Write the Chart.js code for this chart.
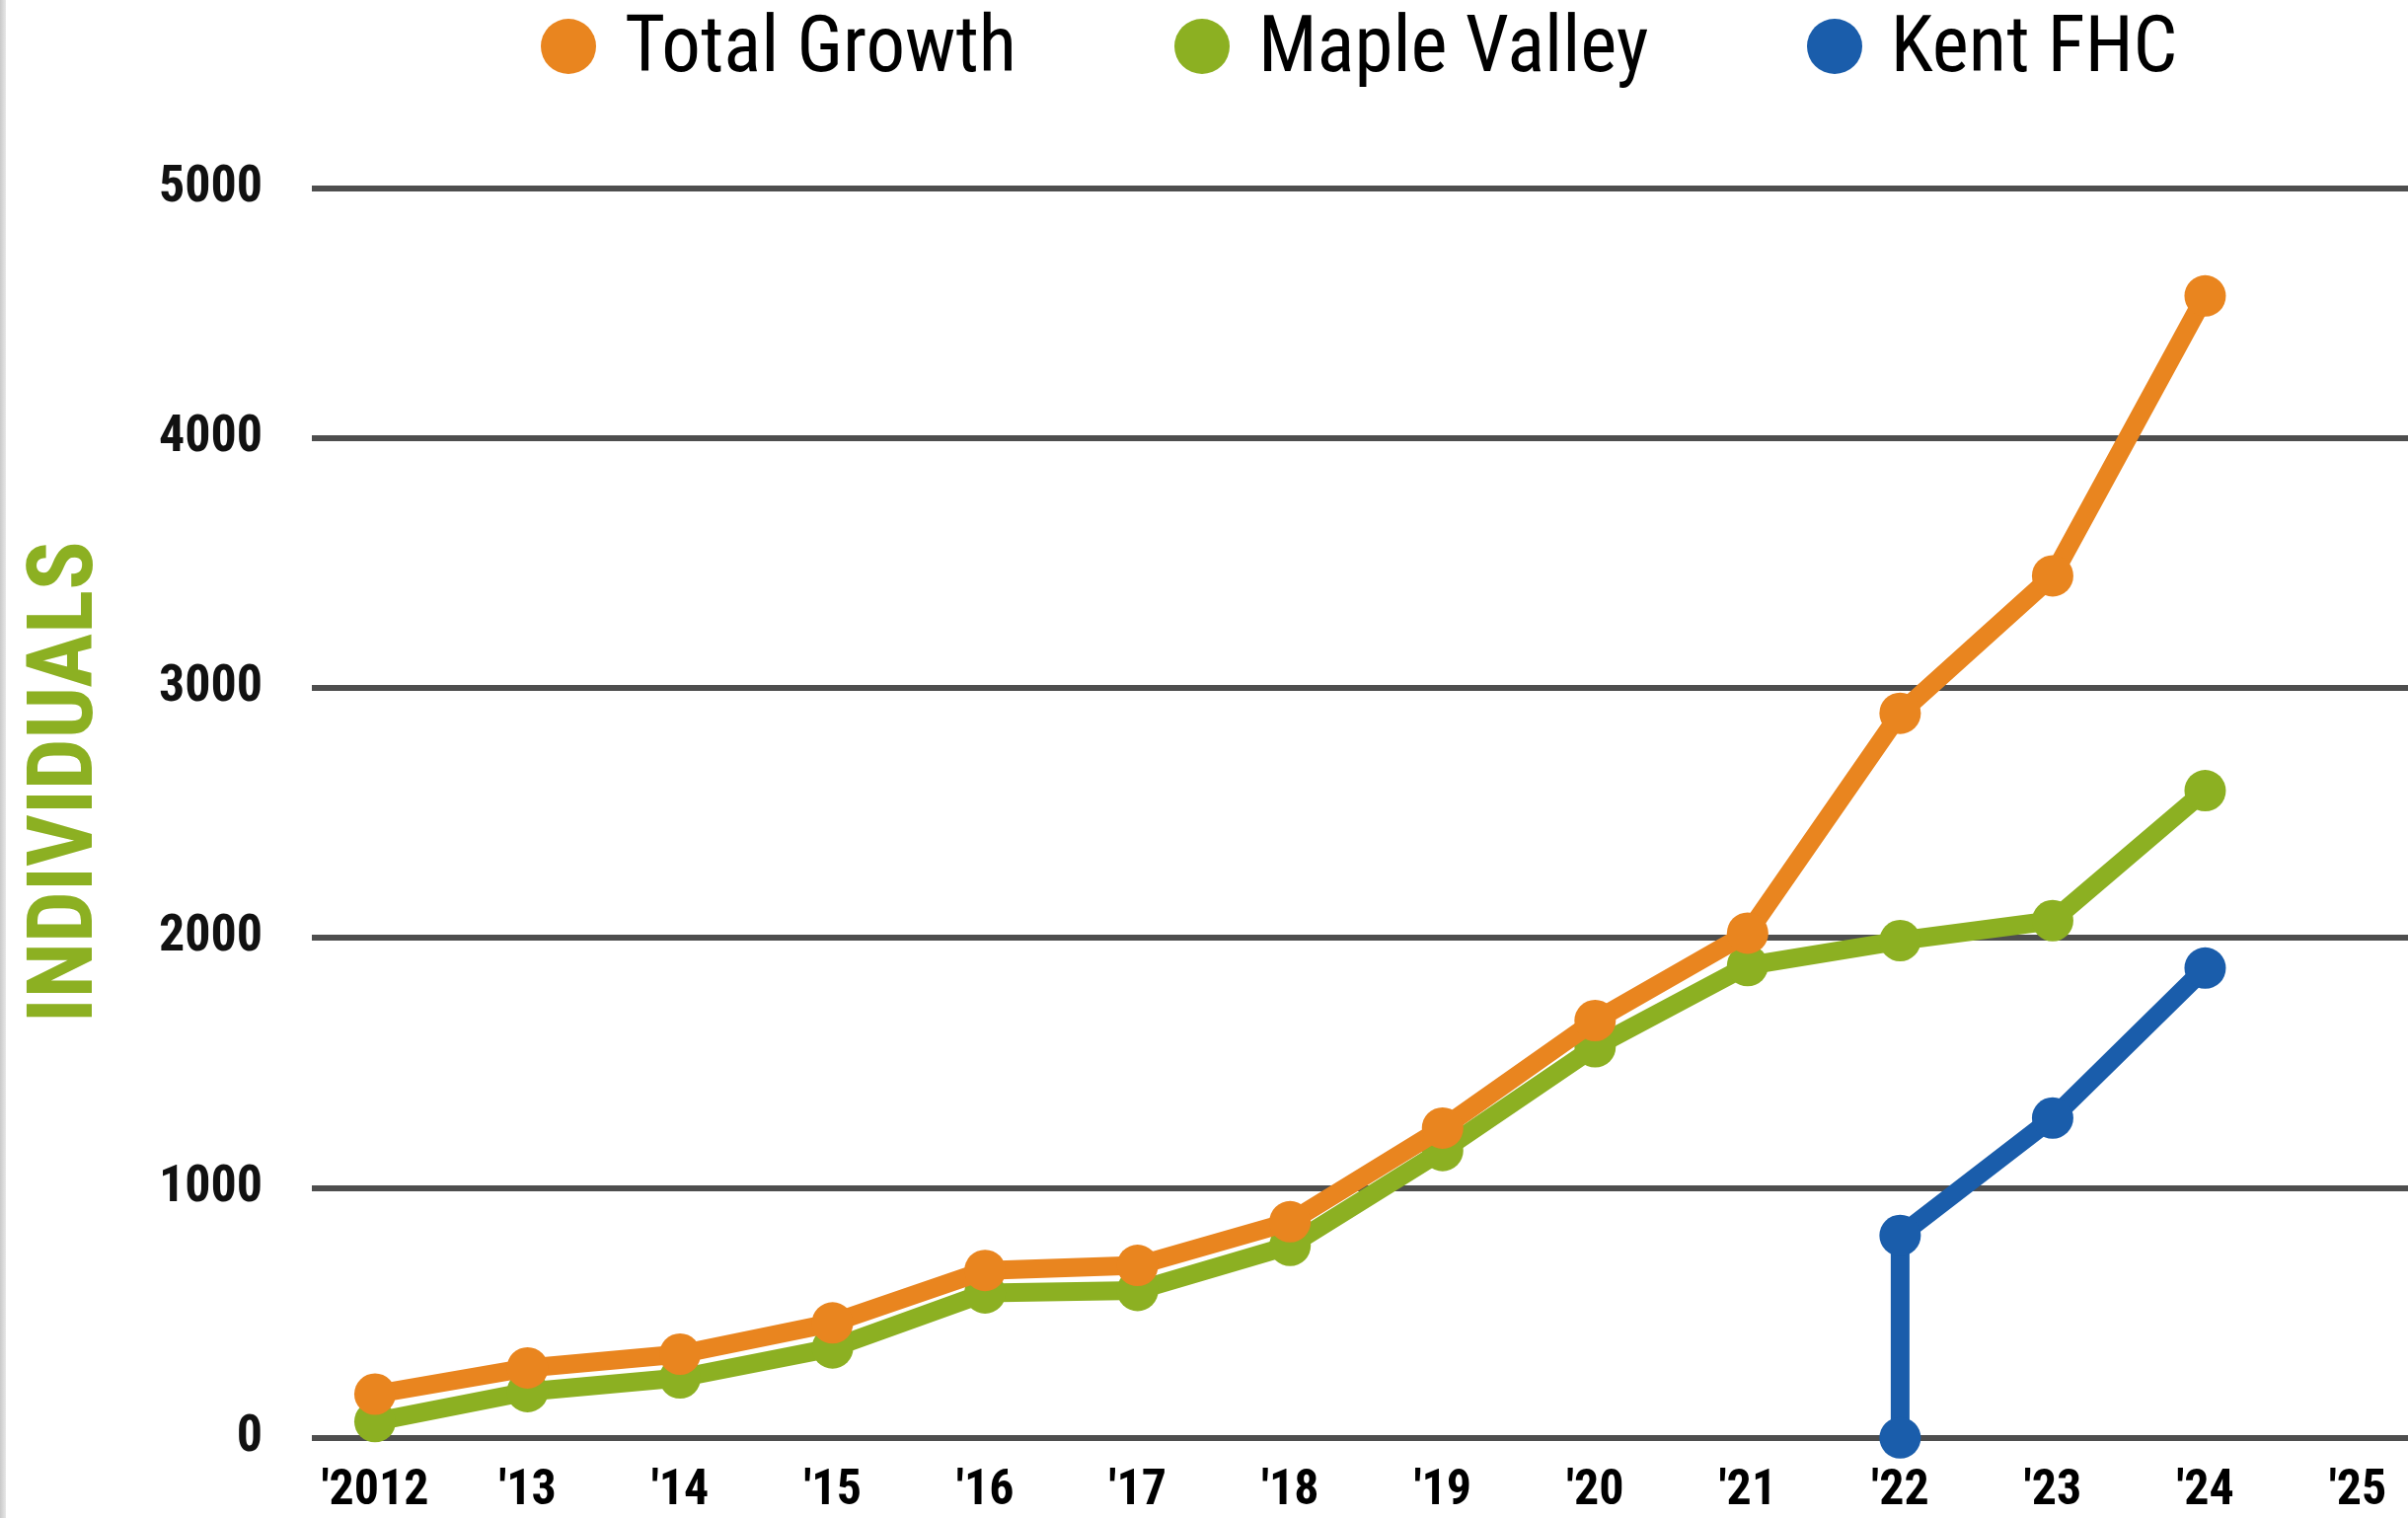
<!DOCTYPE html>
<html><head><meta charset="utf-8">
<script src="https://cdn.jsdelivr.net/npm/chart.js@4.4.1/dist/chart.umd.min.js"></script>
<style>
html,body{margin:0;padding:0;background:#fff;}
#wrap{position:relative;width:2440px;height:1538px;overflow:hidden;background:#fff;}
#c{position:absolute;left:0;top:0;}
#edge{position:absolute;left:0;top:0;width:6px;height:1538px;background:linear-gradient(90deg,#c9c9c9,#e8e8e8);}
#legend{position:absolute;left:548px;top:0;height:94px;display:flex;align-items:center;font-family:Roboto,sans-serif;font-stretch:condensed;font-size:79px;color:#000;white-space:nowrap;}
.item{display:flex;align-items:center;margin-right:160px;}
.item:last-child{margin-right:0;}
.dot{width:56px;height:56px;border-radius:50%;margin-right:29px;flex:none;}
.lbl{position:relative;top:-2px;line-height:80px;}
</style></head>
<body>
<div id="wrap">
<canvas id="c" width="2440" height="1538" style="width:2440px;height:1538px;"></canvas>
<div id="edge"></div>
<div id="legend"></div>
</div>
<script>
// ---- data ----
const years = [2012, 2013, 2014, 2015, 2016, 2017, 2018, 2019, 2020, 2021, 2022, 2023, 2024];
const totalGrowth = [175, 280, 335, 460, 670, 690, 865, 1240, 1670, 2020, 2900, 3450, 4570];
const mapleValley = [65, 185, 240, 360, 580, 590, 770, 1150, 1565, 1890, 1990, 2070, 2590];
const kentYears = [2022, 2022, 2023, 2024];
const kentFHC = [0, 810, 1280, 1880];
const tickYears = [2012, 2013, 2014, 2015, 2016, 2017, 2018, 2019, 2020, 2021, 2022, 2023, 2024, 2025];
const tickLabels = ["'2012", "'13", "'14", "'15", "'16", "'17", "'18", "'19", "'20", "'21", "'22", "'23", "'24", "'25"];
const yTicks = [0, 1000, 2000, 3000, 4000, 5000];
const seriesNames = ["Total Growth", "Maple Valley", "Kent FHC"];
const yTitle = "INDIVIDUALS";

const colors = ["#E9851F", "#8CB022", "#1A5DAB"];
const FAM = 'Roboto, sans-serif';

function pts(xs, ys) { return xs.map((x, i) => ({ x: x, y: ys[i] })); }

function ds(label, data, color) {
  return {
    label: label, data: data,
    borderColor: color, backgroundColor: color,
    pointBackgroundColor: color, pointBorderColor: color,
    borderWidth: 19, pointRadius: 21, pointBorderWidth: 0, pointHoverRadius: 21,
    tension: 0, clip: false, fill: false,
    borderJoinStyle: 'round', borderCapStyle: 'round'
  };
}

const chart = new Chart(document.getElementById('c'), {
  type: 'line',
  data: {
    datasets: [
      ds(seriesNames[2], pts(kentYears, kentFHC), colors[2]),
      ds(seriesNames[0], pts(years, totalGrowth), colors[0]),
      ds(seriesNames[1], pts(years, mapleValley), colors[1])
    ]
  },
  options: {
    responsive: false,
    devicePixelRatio: 1,
    animation: false,
    layout: { autoPadding: false, padding: { top: 191, left: 0, right: 0, bottom: 0 } },
    plugins: { legend: { display: false }, tooltip: { enabled: false } },
    scales: {
      x: {
        type: 'linear',
        min: 2011.586, max: 2025.33,
        grid: { display: false, drawTicks: false },
        border: { display: false },
        afterBuildTicks: (s) => { s.ticks = tickYears.map(v => ({ value: v })); },
        afterFit: (s) => { s.height = 74; s.paddingLeft = 0; s.paddingRight = 0; },
        ticks: {
          autoSkip: false, maxRotation: 0,
          padding: 35,
          color: '#000',
          font: { family: FAM, weight: 'bold condensed', size: 50, lineHeight: 0.8 },
          callback: (v) => { const i = tickYears.indexOf(v); return i >= 0 ? tickLabels[i] : ''; }
        }
      },
      y: {
        type: 'linear',
        min: 0, max: 5000,
        afterBuildTicks: (s) => { s.ticks = yTicks.map(v => ({ value: v })); },
        afterFit: (s) => { s.width = 316; },
        grid: { color: '#4e4e4e', lineWidth: 6, drawTicks: false },
        border: { display: false },
        ticks: {
          padding: 50,
          color: '#111',
          font: { family: FAM, weight: 'bold condensed', size: 52 },
          callback: (v) => String(v)
        },
        title: {
          display: true, text: '   ' + yTitle, color: '#8CB022',
          font: { family: FAM, weight: 'bold condensed', size: 92 },
          padding: { top: 15, bottom: 0 }
        }
      }
    }
  }
});

// HTML legend built from the dataset labels/colours
const leg = document.getElementById('legend');
seriesNames.forEach((n, i) => {
  const it = document.createElement('div'); it.className = 'item';
  const d = document.createElement('span'); d.className = 'dot'; d.style.background = colors[i];
  const t = document.createElement('span'); t.className = 'lbl'; t.textContent = n;
  it.appendChild(d); it.appendChild(t); leg.appendChild(it);
});
</script>
</body></html>
